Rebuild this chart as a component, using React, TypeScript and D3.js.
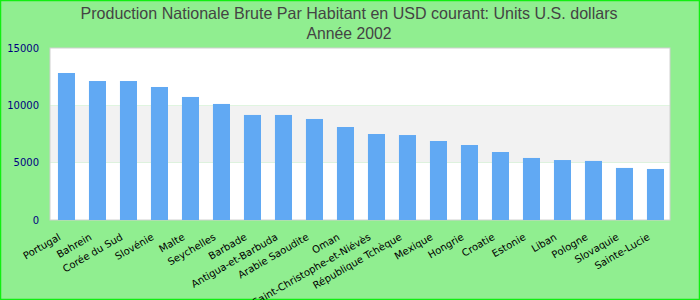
import React from "react";
import * as d3 from "d3";

const countries = [
  "Portugal", "Bahrein", "Corée du Sud", "Slovénie", "Malte", "Seychelles",
  "Barbade", "Antigua-et-Barbuda", "Arabie Saoudite", "Oman",
  "Saint-Christophe-et-Niévès", "République Tchèque", "Mexique", "Hongrie",
  "Croatie", "Estonie", "Liban", "Pologne", "Slovaquie", "Sainte-Lucie",
];
const values = [
  12820, 12120, 12120, 11600, 10730, 10120, 9160, 9160, 8810, 8110,
  7500, 7410, 6890, 6540, 5930, 5410, 5230, 5150, 4540, 4450,
];
const yTicks = [0, 5000, 10000, 15000];
const titleLines = [
  "Production Nationale Brute Par Habitant en USD courant: Units U.S. dollars",
  "Année 2002",
];
const titleWidths = [537, 85];

const W = 700, H = 300;
const plot = { left: 50, right: 670, top: 48, bottom: 220 };

export default function App() {
  const x = d3.scaleBand<string>().domain(countries).range([plot.left, plot.right]).paddingInner(0.45).paddingOuter(0.225).align(0.57);
  const xc = d3.scaleBand<string>().domain(countries).range([plot.left, plot.right]);
  const y = d3.scaleLinear().domain([0, 15000]).range([plot.bottom, plot.top]);
  const bands = d3.pairs(yTicks);
  return (
    <svg width={W} height={H} style={{ position: "absolute", left: 0, top: 0 }}>
      <rect x={0} y={0} width={W} height={H} fill="#90ee90" />
      <rect x={0.5} y={0.5} width={W - 1} height={H - 1} fill="none" stroke="#11ee11" strokeWidth={1.5} />
      {titleLines.map((t, i) => (
        <text key={i} x={349} y={19 + i * 20} textAnchor="middle" fontFamily="Liberation Sans, Arial" fontSize={16.5} fill="#444" textLength={titleWidths[i]} lengthAdjust="spacingAndGlyphs">{t}</text>
      ))}
      {bands.map(([a, b], i) => (
        <rect key={i} x={plot.left} y={y(b)} width={plot.right - plot.left} height={y(a) - y(b)} fill={i % 2 === 1 ? "#f2f2f2" : "#ffffff"} />
      ))}
      <rect x={plot.left} y={plot.top} width={plot.right - plot.left} height={plot.bottom - plot.top} fill="none" stroke="#d0d0d0" strokeWidth={1} />
      {countries.map((c, i) => (
        <rect key={c} x={x(c)} y={y(values[i])} width={x.bandwidth()} height={plot.bottom - y(values[i])} fill="#61a9f3" />
      ))}
      {yTicks.map((t) => (
        <text key={t} x={39} y={y(t)} dy="0.35em" textAnchor="end" fontFamily="DejaVu Sans" fontSize={10} fill="#000080">{t}</text>
      ))}
      {countries.map((c) => {
        const cx = (xc(c) as number) + xc.bandwidth() / 2 - 4;
        const cy = 239;
        return (
          <text key={c} x={cx} y={cy} transform={`rotate(-30 ${cx} ${cy})`} textAnchor="end" fontFamily="DejaVu Sans" fontSize={10} fill="#000">{c}</text>
        );
      })}
    </svg>
  );
}
